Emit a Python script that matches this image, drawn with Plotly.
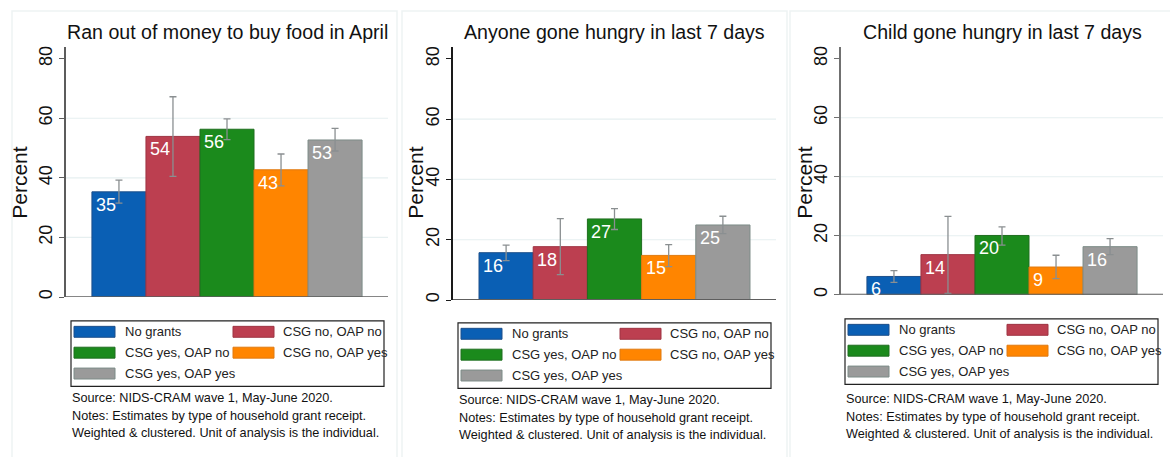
import plotly.graph_objects as go

# ---------------- data ----------------
categories = ["No grants", "CSG no, OAP no", "CSG yes, OAP no", "CSG no, OAP yes", "CSG yes, OAP yes"]
panel_titles = ["Ran out of money to buy food in April",
                "Anyone gone hungry in last 7 days",
                "Child gone hungry in last 7 days"]

money_mean = [35.3, 53.9, 56.3, 42.7, 52.7]
money_lo = [31.5, 40.5, 52.8, 37.3, 49.0]
money_hi = [39.2, 67.2, 59.8, 48.0, 56.6]

anyone_mean = [15.7, 17.7, 26.9, 14.8, 24.9]
anyone_lo = [13.1, 8.4, 23.4, 11.1, 22.0]
anyone_hi = [18.2, 27.0, 30.3, 18.4, 27.8]

child_mean = [6.2, 13.6, 20.1, 9.4, 16.3]
child_lo = [4.2, 0.5, 16.8, 5.5, 13.6]
child_hi = [8.2, 26.6, 23.0, 13.4, 19.0]

y_ticks = [0, 20, 40, 60, 80]
grid_values = [20, 40, 60]
y_title = "Percent"
notes = ["Source: NIDS-CRAM wave 1, May-June 2020.",
         "Notes: Estimates by type of household grant receipt.",
         "Weighted & clustered. Unit of analysis is the individual."]

# ---------------- style ----------------
W, H = 1170, 457
fill_colors = ["#0a5fb4", "#bc3f50", "#1b8a1c", "#ff8500", "#9a9a9a"]
edge_colors = ["#1d4f8a", "#9e3443", "#1f6e1f", "#e07a10", "#7d8c88"]
err_color = "#8a8f91"
FONT = "Liberation Sans"

series = [(money_mean, money_lo, money_hi),
          (anyone_mean, anyone_lo, anyone_hi),
          (child_mean, child_lo, child_hi)]

# pixel geometry for each panel: axis-left, plot-right, y of zero, px per unit
panels_px = [
    dict(x0=66, x1=388, y0=298.0, ppu=3.0, yline="#5c5c5c", box=(71, 322), notes_y=400, ytx=20),
    dict(x0=453, x1=776, y0=301.0, ppu=3.034, yline="#1a1a1a", box=(458, 324), notes_y=402, ytx=416),
    dict(x0=841, x1=1163, y0=295.7, ppu=2.97, yline="#707070", box=(845, 320), notes_y=401, ytx=805),
]
YMAX = 84
frames = [(12, 397), (402, 787), (790, 1176)]

def px(x):
    return x / W

def py(y):
    return 1 - y / H

fig = go.Figure()
shapes = []
annotations = []

for p, (mean, lo, hi) in enumerate(series):
    g = panels_px[p]
    xa = "x" if p == 0 else f"x{p+1}"
    ya = "y" if p == 0 else f"y{p+1}"
    xkey = "xaxis" if p == 0 else f"xaxis{p+1}"
    ykey = "yaxis" if p == 0 else f"yaxis{p+1}"
    for i, cat in enumerate(categories):
        fig.add_trace(go.Bar(
            x=[i], y=[mean[i]], width=1.0, xaxis=xa, yaxis=ya,
            marker=dict(color=fill_colors[i], line=dict(color=edge_colors[i], width=1)),
            error_y=dict(type="data", symmetric=False,
                         array=[hi[i] - mean[i]], arrayminus=[mean[i] - lo[i]],
                         color=err_color, thickness=1.3, width=3.5),
            showlegend=False, name=cat, hoverinfo="skip"))
        annotations.append(dict(
            x=i - 0.5, y=mean[i], xref=xa, yref=ya, xanchor="left", yanchor="top",
            xshift=2, yshift=-1, showarrow=False, text=f"{round(mean[i])}",
            font=dict(family=FONT, size=18, color="white")))
    top_px = g["y0"] - YMAX * g["ppu"]
    fig.layout[xkey] = dict(domain=[px(g["x0"]), px(g["x1"])], range=[-0.98, 4.98],
                            showgrid=False, zeroline=False, showticklabels=False,
                            ticks="", showline=False, anchor=ya, fixedrange=True)
    fig.layout[ykey] = dict(domain=[py(g["y0"]), py(top_px)], range=[0, YMAX],
                            tickvals=y_ticks, ticks="outside", ticklen=5, tickwidth=1.3,
                            tickcolor=g["yline"], tickangle=-90,
                            tickfont=dict(family=FONT, size=18, color="#111"),
                            showgrid=False, zeroline=False, showline=True,
                            linecolor=g["yline"], linewidth=1.8, anchor=xa, fixedrange=True)
    for gv in grid_values:
        shapes.append(dict(type="line", xref=f"{xa} domain", yref=ya, x0=0, x1=1, y0=gv, y1=gv,
                           line=dict(color="#e6eff0", width=1.2), layer="below"))
    shapes.append(dict(type="line", xref=f"{xa} domain", yref=ya, x0=0, x1=1, y0=0, y1=0,
                       line=dict(color="#5e5e5e", width=1.8), layer="above"))
    annotations.append(dict(x=px((g["x0"] + g["x1"]) / 2), y=py(31), xref="paper", yref="paper",
                            xanchor="center", yanchor="middle", showarrow=False,
                            text=panel_titles[p], font=dict(family=FONT, size=19.6, color="#111")))
    annotations.append(dict(x=px(g["ytx"]), y=py(183), xref="paper", yref="paper",
                            xanchor="center", yanchor="middle", showarrow=False, textangle=-90,
                            text=y_title, font=dict(family=FONT, size=21, color="#111")))
    f0, f1 = frames[p]
    shapes.append(dict(type="rect", xref="paper", yref="paper", x0=px(f0), x1=px(f1),
                       y0=py(470), y1=py(10), line=dict(color="#eef3f4", width=1.5), layer="below"))
    bx, by = g["box"]
    shapes.append(dict(type="rect", xref="paper", yref="paper", x0=px(bx), x1=px(bx + 313),
                       y0=py(by + 66), y1=py(by), line=dict(color="#222", width=1.2)))
    rows = [by + 11, by + 32, by + 53]
    cols = [(bx + 3, bx + 52), (bx + 162, bx + 210)]
    for i, cat in enumerate(categories):
        r, c = divmod(i, 2)
        sx, tx = cols[c]
        cy = rows[r]
        shapes.append(dict(type="rect", xref="paper", yref="paper", x0=px(sx), x1=px(sx + 41),
                           y0=py(cy + 5.5), y1=py(cy - 5.5),
                           fillcolor=fill_colors[i], line=dict(color=edge_colors[i], width=1)))
        annotations.append(dict(x=px(tx), y=py(cy), xref="paper", yref="paper",
                                xanchor="left", yanchor="middle", showarrow=False, text=cat,
                                font=dict(family=FONT, size=13, color="#222")))
    for k, line in enumerate(notes):
        annotations.append(dict(x=px(bx - 1), y=py(g["notes_y"] + 17.5 * k), xref="paper", yref="paper",
                                xanchor="left", yanchor="middle", showarrow=False, text=line,
                                font=dict(family=FONT, size=12.7, color="#111")))

fig.update_layout(width=W, height=H, margin=dict(l=0, r=0, t=0, b=0),
                  paper_bgcolor="white", plot_bgcolor="white", barmode="overlay",
                  shapes=shapes, annotations=annotations, showlegend=False)
fig.write_html("out.html", config={"displayModeBar": False},
               post_script="document.body.style.margin='0';document.body.style.padding='0';"
                           "document.body.style.overflow='hidden';")
